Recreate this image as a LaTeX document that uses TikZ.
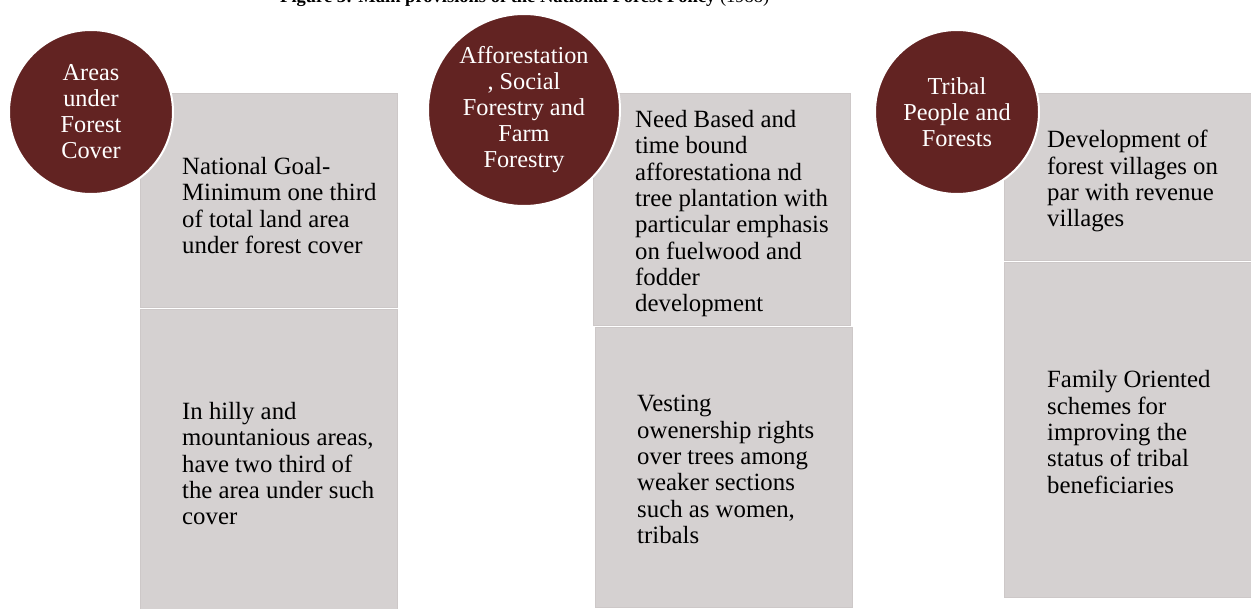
\documentclass[tikz,border=0pt]{standalone}
\usepackage{fontspec}
\setmainfont{Liberation Serif}
\definecolor{maroon}{RGB}{98,35,34}
\definecolor{boxfill}{RGB}{213,209,209}
\definecolor{boxedge}{RGB}{205,200,200}
\tikzset{
  boxshape/.style={rectangle, fill=boxfill, draw=boxedge, line width=1.2bp, inner sep=0pt, anchor=north west},
  circ/.style={circle, fill=maroon, draw=white, line width=2bp, inner sep=0pt, text=white, align=center,
    font=\fontsize{24.3bp}{26bp}\selectfont},
  txt/.style={anchor=west, align=left, inner sep=0pt, text=black, font=\fontsize{24.8bp}{26.3bp}\selectfont},
  titletext/.style={anchor=base west, inner sep=0pt, font=\fontsize{18.5bp}{20bp}\selectfont}
}
\begin{document}
\begin{tikzpicture}[x=1bp, y=-1bp]
\useasboundingbox (0,0) rectangle (1251,609);
\clip (0,0) rectangle (1251,609);
\fill[white] (0,0) rectangle (1251,609);
\node[titletext] (title) at (280,3) {\textbf{Figure 3: Main provisions of the National Forest Policy} (1988)};
% boxes
\node[boxshape, minimum width=257bp, minimum height=214bp] (b1) at (140,93) {};
\node[boxshape, minimum width=257bp, minimum height=300bp] (b2) at (140,309) {};
\node[boxshape, minimum width=257bp, minimum height=232bp] (b3) at (593,93) {};
\node[boxshape, minimum width=257bp, minimum height=280bp] (b4) at (595,327) {};
\node[boxshape, minimum width=262bp, minimum height=167bp] (b5) at (1004,93) {};
\node[boxshape, minimum width=262bp, minimum height=335bp] (b6) at (1004,262) {};
% box texts
\node[txt] (t1) at ([xshift=42bp, yshift=-5bp]b1.west) {National Goal-\\Minimum one third\\of total land area\\under forest cover};
\node[txt] (t2) at ([xshift=42bp, yshift=-4bp]b2.west) {In hilly and\\mountanious areas,\\have two third of\\the area under such\\cover};
\node[txt] (t3) at ([xshift=42bp, yshift=-4bp]b3.west) {Need Based and\\time bound\\afforestationa nd\\tree plantation with\\particular emphasis\\on fuelwood and\\fodder\\development};
\node[txt] (t4) at ([xshift=42bp, yshift=-2bp]b4.west) {Vesting\\owenership rights\\over trees among\\weaker sections\\such as women,\\tribals};
\node[txt] (t5) at ([xshift=43bp, yshift=-4bp]b5.west) {Development of\\forest villages on\\par with revenue\\villages};
\node[txt] (t6) at ([xshift=43bp, yshift=-2bp]b6.west) {Family Oriented\\schemes for\\improving the\\status of tribal\\beneficiaries};
% circles
\node[circ, minimum size=164bp] (c1) at (91,112) {Areas\\under\\Forest\\Cover};
\node[circ, minimum size=192bp] (c2) at (524,110) {Afforestation\\, Social\\Forestry and\\Farm\\Forestry};
\node[circ, minimum size=164bp] (c3) at (957,112) {Tribal\\People and\\Forests};
\end{tikzpicture}
\end{document}
